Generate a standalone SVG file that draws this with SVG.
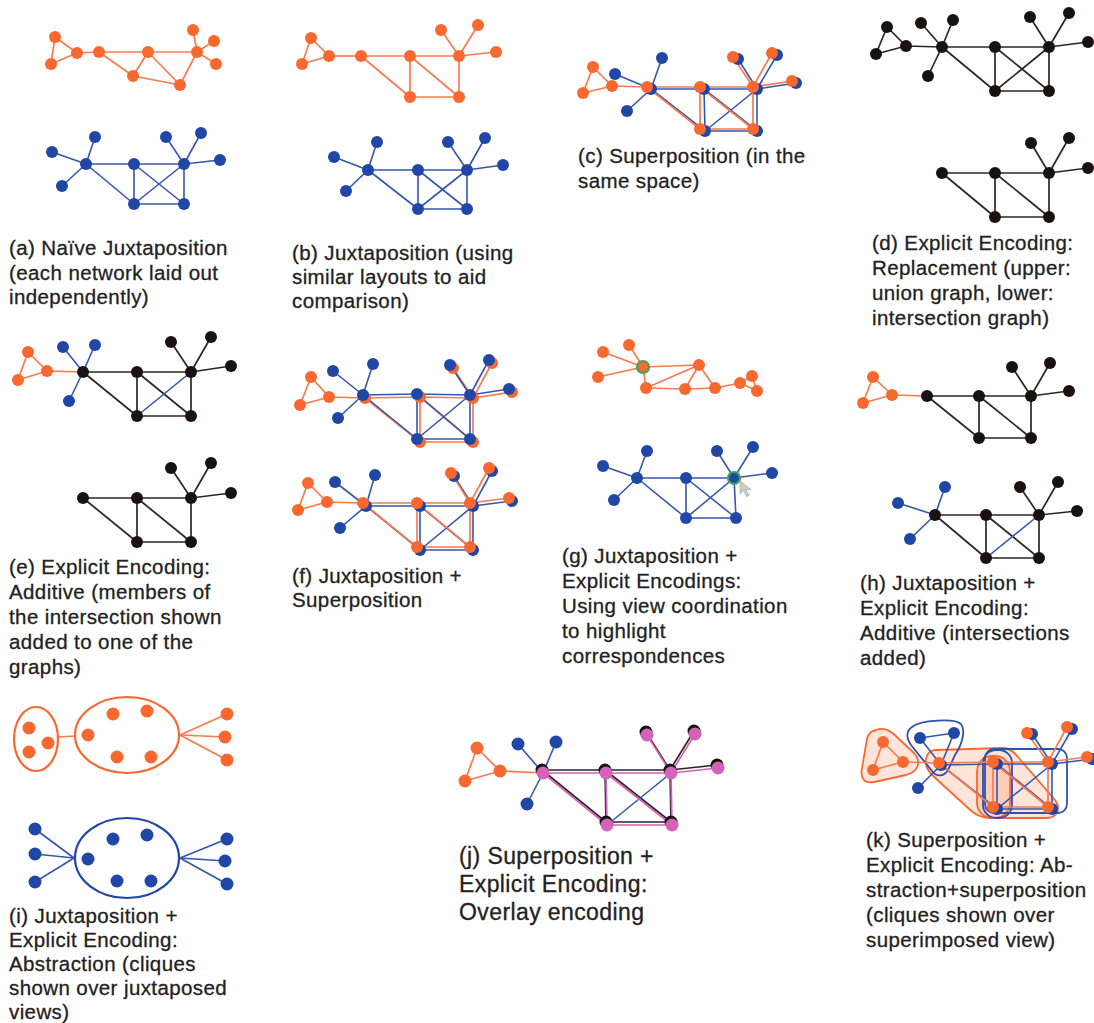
<svg xmlns="http://www.w3.org/2000/svg" width="1094" height="1023" viewBox="0 0 1094 1023">
<style>
  .no{fill:#F9692F}
  .nb{fill:#2047A5}
  .nk{fill:#1A1212}
  .np{fill:#D462B9}
  .eo line,line.eo{stroke:#F97A4E;stroke-width:1.7}
  .eb line,line.eb{stroke:#3456AF;stroke-width:1.6}
  .ek line,line.ek{stroke:#2B2525;stroke-width:1.7}
  .ep line{stroke:#D462B9;stroke-width:1.7}
  .ring{stroke:#3DA655;stroke-width:2.2}
  .hullO{fill:#F9692F;fill-opacity:0.18;stroke:#F9692F;stroke-width:1.8}
  .hullB{fill:none;stroke:#2F52AE;stroke-width:1.8}
  .cl{fill:none;stroke-width:2.2}
  text{font-family:"Liberation Sans",Arial,Helvetica,sans-serif;font-size:20.5px;fill:#222;stroke:#222;stroke-width:0.3;letter-spacing:0.4px}
  .big{font-size:23px}
</style>

<!-- ===================== (a) naive juxtaposition ===================== -->
<g id="panel-a">
  <g id="a-edges">
    <g class="eo">
      <line x1="55" y1="37" x2="51" y2="64"/><line x1="55" y1="37" x2="77" y2="53"/><line x1="51" y1="64" x2="77" y2="53"/>
      <line x1="77" y1="53" x2="99" y2="52"/><line x1="99" y1="52" x2="148" y2="52"/><line x1="148" y1="52" x2="197" y2="52"/>
      <line x1="99" y1="52" x2="133" y2="76"/><line x1="133" y1="76" x2="148" y2="52"/><line x1="148" y1="52" x2="180" y2="85"/>
      <line x1="133" y1="76" x2="180" y2="85"/><line x1="180" y1="85" x2="197" y2="52"/><line x1="197" y1="52" x2="193" y2="30"/>
      <line x1="197" y1="52" x2="214" y2="41"/><line x1="197" y1="52" x2="216" y2="64"/>
    </g>
    <g class="eb">
      <line x1="52" y1="152" x2="86" y2="164"/><line x1="95" y1="137" x2="86" y2="164"/><line x1="62" y1="186" x2="86" y2="164"/>
      <line x1="86" y1="164" x2="134" y2="164"/><line x1="86" y1="164" x2="134" y2="204"/><line x1="134" y1="164" x2="184" y2="164"/>
      <line x1="134" y1="164" x2="134" y2="204"/><line x1="134" y1="164" x2="184" y2="204"/><line x1="134" y1="204" x2="184" y2="204"/>
      <line x1="134" y1="204" x2="184" y2="164"/><line x1="184" y1="164" x2="184" y2="204"/><line x1="184" y1="164" x2="166" y2="137"/>
      <line x1="184" y1="164" x2="201" y2="133"/><line x1="184" y1="164" x2="220" y2="160"/>
    </g>
  </g>
  <g class="no">
    <g id="a-o1"><circle cx="55" cy="37" r="6"/></g><g id="a-o2"><circle cx="51" cy="64" r="6"/></g>
    <g id="a-o3"><circle cx="77" cy="53" r="6"/></g><g id="a-o4"><circle cx="99" cy="52" r="6"/></g>
    <g id="a-o5"><circle cx="148" cy="52" r="6"/></g><g id="a-o6"><circle cx="133" cy="76" r="6"/></g>
    <g id="a-o7"><circle cx="180" cy="85" r="6"/></g><g id="a-o8"><circle cx="197" cy="52" r="6"/></g>
    <g id="a-o9"><circle cx="193" cy="30" r="6"/></g><g id="a-o10"><circle cx="214" cy="41" r="6"/></g>
    <g id="a-o11"><circle cx="216" cy="64" r="6"/></g>
  </g>
  <g class="nb">
    <g id="a-b1"><circle cx="52" cy="152" r="6"/></g><g id="a-b2"><circle cx="95" cy="137" r="6"/></g>
    <g id="a-b3"><circle cx="86" cy="164" r="6"/></g><g id="a-b4"><circle cx="62" cy="186" r="6"/></g>
    <g id="a-b5"><circle cx="134" cy="164" r="6"/></g><g id="a-b6"><circle cx="134" cy="204" r="6"/></g>
    <g id="a-b7"><circle cx="184" cy="204" r="6"/></g><g id="a-b8"><circle cx="184" cy="164" r="6"/></g>
    <g id="a-b9"><circle cx="166" cy="137" r="6"/></g><g id="a-b10"><circle cx="201" cy="133" r="6"/></g>
    <g id="a-b11"><circle cx="220" cy="160" r="6"/></g>
  </g>
  <text x="9" y="255">(a) Naïve Juxtaposition</text>
  <text x="9" y="279.5">(each network laid out</text>
  <text x="9" y="304">independently)</text>
</g>

<!-- ===================== (b) juxtaposition, similar layouts ===================== -->
<g id="panel-b">
  <g id="b-edges">
    <g class="eo">
      <line x1="311" y1="38" x2="302" y2="64"/><line x1="311" y1="38" x2="329" y2="56"/><line x1="302" y1="64" x2="329" y2="56"/>
      <line x1="329" y1="56" x2="361" y2="56"/><line x1="361" y1="56" x2="410" y2="56"/><line x1="410" y1="56" x2="459" y2="56"/>
      <line x1="361" y1="56" x2="410" y2="97"/><line x1="410" y1="56" x2="410" y2="97"/><line x1="410" y1="56" x2="459" y2="97"/>
      <line x1="410" y1="97" x2="459" y2="97"/><line x1="459" y1="56" x2="459" y2="97"/><line x1="459" y1="56" x2="441" y2="30"/>
      <line x1="459" y1="56" x2="478" y2="25"/><line x1="459" y1="56" x2="496" y2="52"/>
    </g>
    <g class="eb">
      <line x1="334" y1="157" x2="368" y2="170"/><line x1="377" y1="142" x2="368" y2="170"/><line x1="346" y1="191" x2="368" y2="170"/>
      <line x1="368" y1="170" x2="418" y2="170"/><line x1="368" y1="170" x2="418" y2="209"/><line x1="418" y1="170" x2="467" y2="170"/>
      <line x1="418" y1="170" x2="418" y2="209"/><line x1="418" y1="170" x2="467" y2="209"/><line x1="418" y1="209" x2="467" y2="209"/>
      <line x1="418" y1="209" x2="467" y2="170"/><line x1="467" y1="170" x2="467" y2="209"/><line x1="467" y1="170" x2="448" y2="142"/>
      <line x1="467" y1="170" x2="485" y2="138"/><line x1="467" y1="170" x2="503" y2="165"/>
    </g>
  </g>
  <g class="no">
    <g id="b-o1"><circle cx="311" cy="38" r="6"/></g><g id="b-o2"><circle cx="302" cy="64" r="6"/></g>
    <g id="b-o3"><circle cx="329" cy="56" r="6"/></g><g id="b-o4"><circle cx="361" cy="56" r="6"/></g>
    <g id="b-o5"><circle cx="410" cy="56" r="6"/></g><g id="b-o6"><circle cx="410" cy="97" r="6"/></g>
    <g id="b-o7"><circle cx="459" cy="97" r="6"/></g><g id="b-o8"><circle cx="459" cy="56" r="6"/></g>
    <g id="b-o9"><circle cx="441" cy="30" r="6"/></g><g id="b-o10"><circle cx="478" cy="25" r="6"/></g>
    <g id="b-o11"><circle cx="496" cy="52" r="6"/></g>
  </g>
  <g class="nb">
    <g id="b-b1"><circle cx="334" cy="157" r="6"/></g><g id="b-b2"><circle cx="377" cy="142" r="6"/></g>
    <g id="b-b3"><circle cx="368" cy="170" r="6"/></g><g id="b-b4"><circle cx="346" cy="191" r="6"/></g>
    <g id="b-b5"><circle cx="418" cy="170" r="6"/></g><g id="b-b6"><circle cx="418" cy="209" r="6"/></g>
    <g id="b-b7"><circle cx="467" cy="209" r="6"/></g><g id="b-b8"><circle cx="467" cy="170" r="6"/></g>
    <g id="b-b9"><circle cx="448" cy="142" r="6"/></g><g id="b-b10"><circle cx="485" cy="138" r="6"/></g>
    <g id="b-b11"><circle cx="503" cy="165" r="6"/></g>
  </g>
  <text x="292" y="260">(b) Juxtaposition (using</text>
  <text x="292" y="284">similar layouts to aid</text>
  <text x="292" y="308">comparison)</text>
</g>

<!-- ===================== (c) superposition ===================== -->
<g id="panel-c">
  <g id="c-edges">
    <g class="eb">
      <line x1="615" y1="74" x2="651" y2="89"/><line x1="662" y1="58" x2="651" y2="89"/><line x1="627" y1="111" x2="651" y2="89"/>
      <line x1="651" y1="89" x2="704" y2="89"/><line x1="651" y1="89" x2="705" y2="131"/><line x1="704" y1="89" x2="757" y2="89"/>
      <line x1="704" y1="89" x2="705" y2="131"/><line x1="704" y1="89" x2="757" y2="131"/><line x1="705" y1="131" x2="757" y2="131"/>
      <line x1="705" y1="131" x2="757" y2="89"/><line x1="757" y1="89" x2="757" y2="131"/><line x1="757" y1="89" x2="738" y2="59"/>
      <line x1="757" y1="89" x2="777" y2="55"/><line x1="757" y1="89" x2="796" y2="83"/>
    </g>
    <g class="eo">
      <line x1="593" y1="67" x2="583" y2="93"/><line x1="593" y1="67" x2="612" y2="86"/><line x1="583" y1="93" x2="612" y2="86"/>
      <line x1="612" y1="86" x2="647" y2="87"/><line x1="647" y1="87" x2="700" y2="87"/><line x1="647" y1="87" x2="700" y2="129"/>
      <line x1="700" y1="87" x2="753" y2="87"/><line x1="700" y1="87" x2="700" y2="129"/><line x1="700" y1="87" x2="753" y2="129"/>
      <line x1="700" y1="129" x2="753" y2="129"/><line x1="753" y1="87" x2="753" y2="129"/><line x1="753" y1="87" x2="733" y2="57"/>
      <line x1="753" y1="87" x2="772" y2="53"/><line x1="753" y1="87" x2="792" y2="81"/>
    </g>
  </g>
  <g class="nb">
    <g id="c-b1"><circle cx="615" cy="74" r="6"/></g><g id="c-b2"><circle cx="662" cy="58" r="6"/></g>
    <g id="c-b3"><circle cx="651" cy="89" r="6"/></g><g id="c-b4"><circle cx="627" cy="111" r="6"/></g>
    <g id="c-b5"><circle cx="704" cy="89" r="6"/></g><g id="c-b6"><circle cx="705" cy="131" r="6"/></g>
    <g id="c-b7"><circle cx="757" cy="131" r="6"/></g><g id="c-b8"><circle cx="757" cy="89" r="6"/></g>
    <g id="c-b9"><circle cx="738" cy="59" r="6"/></g><g id="c-b10"><circle cx="777" cy="55" r="6"/></g>
    <g id="c-b11"><circle cx="796" cy="83" r="6"/></g>
  </g>
  <g class="no">
    <g id="c-o1"><circle cx="593" cy="67" r="6"/></g><g id="c-o2"><circle cx="583" cy="93" r="6"/></g>
    <g id="c-o3"><circle cx="612" cy="86" r="6"/></g><g id="c-o4"><circle cx="647" cy="87" r="6"/></g>
    <g id="c-o5"><circle cx="700" cy="87" r="6"/></g><g id="c-o6"><circle cx="700" cy="129" r="6"/></g>
    <g id="c-o7"><circle cx="753" cy="129" r="6"/></g><g id="c-o8"><circle cx="753" cy="87" r="6"/></g>
    <g id="c-o9"><circle cx="733" cy="57" r="6"/></g><g id="c-o10"><circle cx="772" cy="53" r="6"/></g>
    <g id="c-o11"><circle cx="792" cy="81" r="6"/></g>
  </g>
  <text x="578" y="163">(c) Superposition (in the</text>
  <text x="578" y="188">same space)</text>
</g>

<!-- ===================== (d) replacement ===================== -->
<g id="panel-d">
  <g id="d-edges" class="ek">
    <line x1="887" y1="27" x2="876" y2="54"/><line x1="887" y1="27" x2="906" y2="46"/><line x1="876" y1="54" x2="906" y2="46"/>
    <line x1="906" y1="46" x2="942" y2="47"/><line x1="942" y1="47" x2="921" y2="23"/><line x1="942" y1="47" x2="953" y2="20"/>
    <line x1="942" y1="47" x2="928" y2="76"/><line x1="942" y1="47" x2="995" y2="47"/><line x1="942" y1="47" x2="995" y2="91"/>
    <line x1="995" y1="47" x2="1049" y2="47"/><line x1="995" y1="47" x2="995" y2="91"/><line x1="995" y1="47" x2="1049" y2="91"/>
    <line x1="995" y1="91" x2="1049" y2="47"/><line x1="995" y1="91" x2="1049" y2="91"/><line x1="1049" y1="47" x2="1049" y2="91"/>
    <line x1="1049" y1="47" x2="1030" y2="17"/><line x1="1049" y1="47" x2="1069" y2="13"/><line x1="1049" y1="47" x2="1088" y2="42"/>
    <line x1="942" y1="173" x2="995" y2="173"/><line x1="942" y1="173" x2="995" y2="217"/><line x1="995" y1="173" x2="1049" y2="173"/>
    <line x1="995" y1="173" x2="995" y2="217"/><line x1="995" y1="173" x2="1049" y2="217"/><line x1="995" y1="217" x2="1049" y2="217"/>
    <line x1="1049" y1="173" x2="1049" y2="217"/><line x1="1049" y1="173" x2="1031" y2="143"/><line x1="1049" y1="173" x2="1069" y2="138"/>
    <line x1="1049" y1="173" x2="1088" y2="168"/>
  </g>
  <g class="nk">
    <g id="d-u1"><circle cx="887" cy="27" r="6"/></g><g id="d-u2"><circle cx="876" cy="54" r="6"/></g>
    <g id="d-u3"><circle cx="906" cy="46" r="6"/></g><g id="d-u4"><circle cx="942" cy="47" r="6"/></g>
    <g id="d-u5"><circle cx="921" cy="23" r="6"/></g><g id="d-u6"><circle cx="953" cy="20" r="6"/></g>
    <g id="d-u7"><circle cx="928" cy="76" r="6"/></g><g id="d-u8"><circle cx="995" cy="47" r="6"/></g>
    <g id="d-u9"><circle cx="995" cy="91" r="6"/></g><g id="d-u10"><circle cx="1049" cy="91" r="6"/></g>
    <g id="d-u11"><circle cx="1049" cy="47" r="6"/></g><g id="d-u12"><circle cx="1030" cy="17" r="6"/></g>
    <g id="d-u13"><circle cx="1069" cy="13" r="6"/></g><g id="d-u14"><circle cx="1088" cy="42" r="6"/></g>
    <g id="d-i1"><circle cx="942" cy="173" r="6"/></g><g id="d-i2"><circle cx="995" cy="173" r="6"/></g>
    <g id="d-i3"><circle cx="995" cy="217" r="6"/></g><g id="d-i4"><circle cx="1049" cy="217" r="6"/></g>
    <g id="d-i5"><circle cx="1049" cy="173" r="6"/></g><g id="d-i6"><circle cx="1031" cy="143" r="6"/></g>
    <g id="d-i7"><circle cx="1069" cy="138" r="6"/></g><g id="d-i8"><circle cx="1088" cy="168" r="6"/></g>
  </g>
  <text x="872" y="250">(d) Explicit Encoding:</text>
  <text x="872" y="275">Replacement (upper:</text>
  <text x="872" y="300">union graph, lower:</text>
  <text x="872" y="325">intersection graph)</text>
</g>

<!-- ===================== (e) additive ===================== -->
<g id="panel-e">
  <g id="e-edges">
    <g class="eo">
      <line x1="28" y1="352" x2="18" y2="380"/><line x1="28" y1="352" x2="47" y2="371"/><line x1="18" y1="380" x2="47" y2="371"/>
      <line x1="47" y1="371" x2="83" y2="372"/>
    </g>
    <g class="ek">
      <line x1="83" y1="372" x2="137" y2="372"/><line x1="83" y1="372" x2="137" y2="416"/><line x1="137" y1="372" x2="191" y2="372"/>
      <line x1="137" y1="372" x2="137" y2="416"/><line x1="137" y1="372" x2="191" y2="416"/><line x1="137" y1="416" x2="191" y2="416"/>
      <line x1="191" y1="372" x2="191" y2="416"/><line x1="191" y1="372" x2="171" y2="342"/><line x1="191" y1="372" x2="211" y2="337"/>
      <line x1="191" y1="372" x2="231" y2="366"/>
      <line x1="83" y1="498" x2="137" y2="498"/><line x1="83" y1="498" x2="137" y2="542"/><line x1="137" y1="498" x2="191" y2="498"/>
      <line x1="137" y1="498" x2="137" y2="542"/><line x1="137" y1="498" x2="191" y2="542"/><line x1="137" y1="542" x2="191" y2="542"/>
      <line x1="191" y1="498" x2="191" y2="542"/><line x1="191" y1="498" x2="171" y2="468"/><line x1="191" y1="498" x2="211" y2="463"/>
      <line x1="191" y1="498" x2="231" y2="493"/>
    </g>
    <g class="eb">
      <line x1="83" y1="372" x2="63" y2="347"/><line x1="83" y1="372" x2="95" y2="345"/><line x1="83" y1="372" x2="69" y2="401"/>
      <line x1="137" y1="416" x2="191" y2="372"/>
    </g>
  </g>
  <g class="no">
    <g id="e-o1"><circle cx="28" cy="352" r="6"/></g><g id="e-o2"><circle cx="18" cy="380" r="6"/></g>
    <g id="e-o3"><circle cx="47" cy="371" r="6"/></g>
  </g>
  <g class="nb">
    <g id="e-b1"><circle cx="63" cy="347" r="6"/></g><g id="e-b2"><circle cx="95" cy="345" r="6"/></g>
    <g id="e-b3"><circle cx="69" cy="401" r="6"/></g>
  </g>
  <g class="nk">
    <g id="e-k1"><circle cx="83" cy="372" r="6"/></g><g id="e-k2"><circle cx="137" cy="372" r="6"/></g>
    <g id="e-k3"><circle cx="137" cy="416" r="6"/></g><g id="e-k4"><circle cx="191" cy="416" r="6"/></g>
    <g id="e-k5"><circle cx="191" cy="372" r="6"/></g><g id="e-k6"><circle cx="171" cy="342" r="6"/></g>
    <g id="e-k7"><circle cx="211" cy="337" r="6"/></g><g id="e-k8"><circle cx="231" cy="366" r="6"/></g>
    <g id="e-i1"><circle cx="83" cy="498" r="6"/></g><g id="e-i2"><circle cx="137" cy="498" r="6"/></g>
    <g id="e-i3"><circle cx="137" cy="542" r="6"/></g><g id="e-i4"><circle cx="191" cy="542" r="6"/></g>
    <g id="e-i5"><circle cx="191" cy="498" r="6"/></g><g id="e-i6"><circle cx="171" cy="468" r="6"/></g>
    <g id="e-i7"><circle cx="211" cy="463" r="6"/></g><g id="e-i8"><circle cx="231" cy="493" r="6"/></g>
  </g>
  <text x="9" y="574">(e) Explicit Encoding:</text>
  <text x="9" y="599">Additive (members of</text>
  <text x="9" y="624">the intersection shown</text>
  <text x="9" y="649">added to one of the</text>
  <text x="9" y="674">graphs)</text>
</g>

<!-- ===================== (f) juxtaposition + superposition ===================== -->
<g id="panel-f">
  <g id="f-edges">
    <!-- upper view: orange behind blue -->
    <g class="eo">
      <line x1="311" y1="377" x2="300" y2="405"/><line x1="311" y1="377" x2="329" y2="397"/><line x1="300" y1="405" x2="329" y2="397"/>
      <line x1="329" y1="397" x2="365" y2="398"/><line x1="365" y1="398" x2="420" y2="397"/><line x1="365" y1="398" x2="420" y2="442"/>
      <line x1="420" y1="397" x2="473" y2="398"/><line x1="420" y1="397" x2="420" y2="442"/><line x1="420" y1="397" x2="473" y2="442"/>
      <line x1="420" y1="442" x2="473" y2="442"/><line x1="473" y1="398" x2="473" y2="442"/><line x1="473" y1="398" x2="453" y2="368"/>
      <line x1="473" y1="398" x2="492" y2="363"/><line x1="473" y1="398" x2="512" y2="392"/>
    </g>
    <g class="eb">
      <line x1="333" y1="371" x2="363" y2="395"/><line x1="373" y1="364" x2="363" y2="395"/><line x1="338" y1="418" x2="363" y2="395"/>
      <line x1="363" y1="395" x2="417" y2="394"/><line x1="363" y1="395" x2="417" y2="439"/><line x1="417" y1="394" x2="470" y2="395"/>
      <line x1="417" y1="394" x2="417" y2="439"/><line x1="417" y1="394" x2="470" y2="439"/><line x1="417" y1="439" x2="470" y2="439"/>
      <line x1="417" y1="439" x2="470" y2="395"/><line x1="470" y1="395" x2="470" y2="439"/><line x1="470" y1="395" x2="450" y2="365"/>
      <line x1="470" y1="395" x2="489" y2="360"/><line x1="470" y1="395" x2="509" y2="389"/>
    </g>
    <!-- lower view: blue behind orange -->
    <g class="eb">
      <line x1="335" y1="482" x2="366" y2="506"/><line x1="375" y1="475" x2="366" y2="506"/><line x1="340" y1="528" x2="366" y2="506"/>
      <line x1="366" y1="506" x2="420" y2="506"/><line x1="366" y1="506" x2="420" y2="550"/><line x1="420" y1="506" x2="473" y2="506"/>
      <line x1="420" y1="506" x2="420" y2="550"/><line x1="420" y1="506" x2="473" y2="550"/><line x1="420" y1="550" x2="473" y2="550"/>
      <line x1="420" y1="550" x2="473" y2="506"/><line x1="473" y1="506" x2="473" y2="550"/><line x1="473" y1="506" x2="454" y2="476"/>
      <line x1="473" y1="506" x2="492" y2="471"/><line x1="473" y1="506" x2="512" y2="501"/>
    </g>
    <g class="eo">
      <line x1="308" y1="483" x2="298" y2="510"/><line x1="308" y1="483" x2="327" y2="502"/><line x1="298" y1="510" x2="327" y2="502"/>
      <line x1="327" y1="502" x2="363" y2="503"/><line x1="363" y1="503" x2="417" y2="503"/><line x1="363" y1="503" x2="417" y2="547"/>
      <line x1="417" y1="503" x2="470" y2="503"/><line x1="417" y1="503" x2="417" y2="547"/><line x1="417" y1="503" x2="470" y2="547"/>
      <line x1="417" y1="547" x2="470" y2="547"/><line x1="470" y1="503" x2="470" y2="547"/><line x1="470" y1="503" x2="451" y2="473"/>
      <line x1="470" y1="503" x2="489" y2="468"/><line x1="470" y1="503" x2="509" y2="498"/>
    </g>
  </g>
  <g class="no">
    <g id="f-o1"><circle cx="311" cy="377" r="6"/></g><g id="f-o2"><circle cx="300" cy="405" r="6"/></g>
    <g id="f-o3"><circle cx="329" cy="397" r="6"/></g><g id="f-o4"><circle cx="365" cy="398" r="6"/></g>
    <g id="f-o5"><circle cx="420" cy="397" r="6"/></g><g id="f-o6"><circle cx="420" cy="442" r="6"/></g>
    <g id="f-o7"><circle cx="473" cy="442" r="6"/></g><g id="f-o8"><circle cx="473" cy="398" r="6"/></g>
    <g id="f-o9"><circle cx="453" cy="368" r="6"/></g><g id="f-o10"><circle cx="492" cy="363" r="6"/></g>
    <g id="f-o11"><circle cx="512" cy="392" r="6"/></g>
  </g>
  <g class="nb">
    <g id="f-b1"><circle cx="333" cy="371" r="6"/></g><g id="f-b2"><circle cx="373" cy="364" r="6"/></g>
    <g id="f-b3"><circle cx="363" cy="395" r="6"/></g><g id="f-b4"><circle cx="338" cy="418" r="6"/></g>
    <g id="f-b5"><circle cx="417" cy="394" r="6"/></g><g id="f-b6"><circle cx="417" cy="439" r="6"/></g>
    <g id="f-b7"><circle cx="470" cy="439" r="6"/></g><g id="f-b8"><circle cx="470" cy="395" r="6"/></g>
    <g id="f-b9"><circle cx="450" cy="365" r="6"/></g><g id="f-b10"><circle cx="489" cy="360" r="6"/></g>
    <g id="f-b11"><circle cx="509" cy="389" r="6"/></g>
  </g>
  <g class="nb">
    <g id="f-lb1"><circle cx="335" cy="482" r="6"/></g><g id="f-lb2"><circle cx="375" cy="475" r="6"/></g>
    <g id="f-lb3"><circle cx="366" cy="506" r="6"/></g><g id="f-lb4"><circle cx="340" cy="528" r="6"/></g>
    <g id="f-lb5"><circle cx="420" cy="506" r="6"/></g><g id="f-lb6"><circle cx="420" cy="550" r="6"/></g>
    <g id="f-lb7"><circle cx="473" cy="550" r="6"/></g><g id="f-lb8"><circle cx="473" cy="506" r="6"/></g>
    <g id="f-lb9"><circle cx="454" cy="476" r="6"/></g><g id="f-lb10"><circle cx="492" cy="471" r="6"/></g>
    <g id="f-lb11"><circle cx="512" cy="501" r="6"/></g>
  </g>
  <g class="no">
    <g id="f-lo1"><circle cx="308" cy="483" r="6"/></g><g id="f-lo2"><circle cx="298" cy="510" r="6"/></g>
    <g id="f-lo3"><circle cx="327" cy="502" r="6"/></g><g id="f-lo4"><circle cx="363" cy="503" r="6"/></g>
    <g id="f-lo5"><circle cx="417" cy="503" r="6"/></g><g id="f-lo6"><circle cx="417" cy="547" r="6"/></g>
    <g id="f-lo7"><circle cx="470" cy="547" r="6"/></g><g id="f-lo8"><circle cx="470" cy="503" r="6"/></g>
    <g id="f-lo9"><circle cx="451" cy="473" r="6"/></g><g id="f-lo10"><circle cx="489" cy="468" r="6"/></g>
    <g id="f-lo11"><circle cx="509" cy="498" r="6"/></g>
  </g>
  <text x="292" y="583">(f) Juxtaposition +</text>
  <text x="292" y="607">Superposition</text>
</g>

<!-- ===================== (g) view coordination ===================== -->
<g id="panel-g">
  <g id="g-edges">
    <g class="eo">
      <line x1="603" y1="352" x2="643" y2="367"/><line x1="629" y1="345" x2="643" y2="367"/><line x1="598" y1="377" x2="643" y2="367"/>
      <line x1="643" y1="367" x2="699" y2="365"/><line x1="643" y1="367" x2="646" y2="388"/><line x1="646" y1="388" x2="699" y2="365"/>
      <line x1="646" y1="388" x2="685" y2="389"/><line x1="685" y1="389" x2="699" y2="365"/><line x1="699" y1="365" x2="715" y2="388"/>
      <line x1="685" y1="389" x2="715" y2="388"/><line x1="715" y1="388" x2="740" y2="383"/><line x1="740" y1="383" x2="752" y2="376"/>
      <line x1="740" y1="383" x2="757" y2="391"/><line x1="752" y1="376" x2="757" y2="391"/>
    </g>
    <g class="eb">
      <line x1="603" y1="466" x2="637" y2="478"/><line x1="647" y1="451" x2="637" y2="478"/><line x1="614" y1="500" x2="637" y2="478"/>
      <line x1="637" y1="478" x2="686" y2="478"/><line x1="637" y1="478" x2="686" y2="518"/><line x1="686" y1="478" x2="734" y2="478"/>
      <line x1="686" y1="478" x2="686" y2="518"/><line x1="686" y1="478" x2="736" y2="518"/><line x1="686" y1="518" x2="736" y2="518"/>
      <line x1="686" y1="518" x2="734" y2="478"/><line x1="734" y1="478" x2="736" y2="518"/><line x1="734" y1="478" x2="717" y2="451"/>
      <line x1="734" y1="478" x2="753" y2="447"/><line x1="734" y1="478" x2="772" y2="473"/>
    </g>
  </g>
  <g class="no">
    <g id="g-o1"><circle cx="603" cy="352" r="6"/></g><g id="g-o2"><circle cx="629" cy="345" r="6"/></g>
    <g id="g-o3"><circle cx="598" cy="377" r="6"/></g>
    <g id="g-o4"><circle class="ring" cx="643" cy="367" r="6"/></g>
    <g id="g-o5"><circle cx="699" cy="365" r="6"/></g><g id="g-o6"><circle cx="646" cy="388" r="6"/></g>
    <g id="g-o7"><circle cx="685" cy="389" r="6"/></g><g id="g-o8"><circle cx="715" cy="388" r="6"/></g>
    <g id="g-o9"><circle cx="740" cy="383" r="6"/></g><g id="g-o10"><circle cx="752" cy="376" r="6"/></g>
    <g id="g-o11"><circle cx="757" cy="391" r="6"/></g>
  </g>
  <g class="nb">
    <g id="g-b1"><circle cx="603" cy="466" r="6"/></g><g id="g-b2"><circle cx="647" cy="451" r="6"/></g>
    <g id="g-b3"><circle cx="637" cy="478" r="6"/></g><g id="g-b4"><circle cx="614" cy="500" r="6"/></g>
    <g id="g-b5"><circle cx="686" cy="478" r="6"/></g><g id="g-b6"><circle cx="686" cy="518" r="6"/></g>
    <g id="g-b7"><circle cx="736" cy="518" r="6"/></g>
    <g id="g-b8"><circle class="ring" cx="734" cy="478" r="6"/></g>
    <g id="g-b9"><circle cx="717" cy="451" r="6"/></g><g id="g-b10"><circle cx="753" cy="447" r="6"/></g>
    <g id="g-b11"><circle cx="772" cy="473" r="6"/></g>
  </g>
  <!-- pointer over the highlighted node -->
  <path d="M740,481 L740,494 L743.5,490.5 L746.5,496.5 L749,495.3 L746,489.5 L751,489.5 Z" fill="#C9CCC9" stroke="#9EA39E" stroke-width="0.6"/>
  <text x="562" y="563">(g) Juxtaposition +</text>
  <text x="562" y="588">Explicit Encodings:</text>
  <text x="562" y="613">Using view coordination</text>
  <text x="562" y="638">to highlight</text>
  <text x="562" y="663">correspondences</text>
</g>

<!-- ===================== (h) juxtaposition + additive ===================== -->
<g id="panel-h">
  <g id="h-edges">
    <g class="eo">
      <line x1="873" y1="377" x2="863" y2="403"/><line x1="873" y1="377" x2="892" y2="395"/><line x1="863" y1="403" x2="892" y2="395"/>
      <line x1="892" y1="395" x2="927" y2="396"/>
    </g>
    <g class="ek">
      <line x1="927" y1="396" x2="979" y2="396"/><line x1="927" y1="396" x2="979" y2="438"/><line x1="979" y1="396" x2="1031" y2="396"/>
      <line x1="979" y1="396" x2="979" y2="438"/><line x1="979" y1="396" x2="1031" y2="438"/><line x1="979" y1="438" x2="1031" y2="438"/>
      <line x1="1031" y1="396" x2="1031" y2="438"/><line x1="1031" y1="396" x2="1012" y2="367"/><line x1="1031" y1="396" x2="1050" y2="363"/>
      <line x1="1031" y1="396" x2="1069" y2="391"/>
      <line x1="935" y1="515" x2="986" y2="515"/><line x1="935" y1="515" x2="986" y2="558"/><line x1="986" y1="515" x2="1039" y2="515"/>
      <line x1="986" y1="515" x2="986" y2="558"/><line x1="986" y1="515" x2="1039" y2="558"/><line x1="986" y1="558" x2="1039" y2="558"/>
      <line x1="1039" y1="515" x2="1039" y2="558"/><line x1="1039" y1="515" x2="1020" y2="487"/><line x1="1039" y1="515" x2="1058" y2="482"/>
      <line x1="1039" y1="515" x2="1077" y2="511"/>
    </g>
    <g class="eb">
      <line x1="935" y1="515" x2="898" y2="503"/><line x1="935" y1="515" x2="945" y2="487"/><line x1="935" y1="515" x2="910" y2="539"/>
      <line x1="986" y1="558" x2="1039" y2="515"/>
    </g>
  </g>
  <g class="no">
    <g id="h-o1"><circle cx="873" cy="377" r="6"/></g><g id="h-o2"><circle cx="863" cy="403" r="6"/></g>
    <g id="h-o3"><circle cx="892" cy="395" r="6"/></g>
  </g>
  <g class="nb">
    <g id="h-b1"><circle cx="898" cy="503" r="6"/></g><g id="h-b2"><circle cx="945" cy="487" r="6"/></g>
    <g id="h-b3"><circle cx="910" cy="539" r="6"/></g>
  </g>
  <g class="nk">
    <g id="h-k1"><circle cx="927" cy="396" r="6"/></g><g id="h-k2"><circle cx="979" cy="396" r="6"/></g>
    <g id="h-k3"><circle cx="979" cy="438" r="6"/></g><g id="h-k4"><circle cx="1031" cy="438" r="6"/></g>
    <g id="h-k5"><circle cx="1031" cy="396" r="6"/></g><g id="h-k6"><circle cx="1012" cy="367" r="6"/></g>
    <g id="h-k7"><circle cx="1050" cy="363" r="6"/></g><g id="h-k8"><circle cx="1069" cy="391" r="6"/></g>
    <g id="h-l1"><circle cx="935" cy="515" r="6"/></g><g id="h-l2"><circle cx="986" cy="515" r="6"/></g>
    <g id="h-l3"><circle cx="986" cy="558" r="6"/></g><g id="h-l4"><circle cx="1039" cy="558" r="6"/></g>
    <g id="h-l5"><circle cx="1039" cy="515" r="6"/></g><g id="h-l6"><circle cx="1020" cy="487" r="6"/></g>
    <g id="h-l7"><circle cx="1058" cy="482" r="6"/></g><g id="h-l8"><circle cx="1077" cy="511" r="6"/></g>
  </g>
  <text x="860" y="590">(h) Juxtaposition +</text>
  <text x="860" y="615">Explicit Encoding:</text>
  <text x="860" y="640">Additive (intersections</text>
  <text x="860" y="665">added)</text>
</g>

<!-- ===================== (i) abstraction ===================== -->
<g id="panel-i">
  <g id="i-edges">
    <g class="eo">
      <line x1="58" y1="737" x2="75" y2="736"/>
      <line x1="180" y1="735" x2="227" y2="714"/><line x1="180" y1="735" x2="225" y2="737"/><line x1="180" y1="735" x2="227" y2="760"/>
    </g>
    <g class="eb">
      <line x1="74" y1="858" x2="35" y2="829"/><line x1="74" y1="858" x2="35" y2="854"/><line x1="74" y1="858" x2="35" y2="882"/>
      <line x1="180" y1="858" x2="227" y2="839"/><line x1="180" y1="858" x2="225" y2="861"/><line x1="180" y1="858" x2="227" y2="884"/>
    </g>
  </g>
  <g id="i-clique-o1"><ellipse class="cl" cx="36" cy="739" rx="22" ry="32" stroke="#F9692F"/></g>
  <g id="i-clique-o2"><ellipse class="cl" cx="127" cy="735" rx="52" ry="38" stroke="#F9692F"/></g>
  <g id="i-clique-b"><ellipse class="cl" cx="127" cy="858" rx="52" ry="40" stroke="#2047A5"/></g>
  <g class="no">
    <g id="i-o1"><circle cx="29" cy="728" r="6.5"/></g><g id="i-o2"><circle cx="48" cy="743" r="6.5"/></g>
    <g id="i-o3"><circle cx="29" cy="752" r="6.5"/></g><g id="i-o4"><circle cx="113" cy="714" r="6.5"/></g>
    <g id="i-o5"><circle cx="147" cy="711" r="6.5"/></g><g id="i-o6"><circle cx="88" cy="735" r="6.5"/></g>
    <g id="i-o7"><circle cx="117" cy="757" r="6.5"/></g><g id="i-o8"><circle cx="151" cy="757" r="6.5"/></g>
    <g id="i-o9"><circle cx="227" cy="714" r="6.5"/></g><g id="i-o10"><circle cx="225" cy="737" r="6.5"/></g>
    <g id="i-o11"><circle cx="227" cy="760" r="6.5"/></g>
  </g>
  <g class="nb">
    <g id="i-b1"><circle cx="35" cy="829" r="6.5"/></g><g id="i-b2"><circle cx="35" cy="854" r="6.5"/></g>
    <g id="i-b3"><circle cx="35" cy="882" r="6.5"/></g><g id="i-b4"><circle cx="113" cy="839" r="6.5"/></g>
    <g id="i-b5"><circle cx="147" cy="835" r="6.5"/></g><g id="i-b6"><circle cx="88" cy="859" r="6.5"/></g>
    <g id="i-b7"><circle cx="117" cy="881" r="6.5"/></g><g id="i-b8"><circle cx="151" cy="881" r="6.5"/></g>
    <g id="i-b9"><circle cx="227" cy="839" r="6.5"/></g><g id="i-b10"><circle cx="225" cy="861" r="6.5"/></g>
    <g id="i-b11"><circle cx="227" cy="884" r="6.5"/></g>
  </g>
  <text x="9" y="922.5">(i) Juxtaposition +</text>
  <text x="9" y="946.5">Explicit Encoding:</text>
  <text x="9" y="970.5">Abstraction (cliques</text>
  <text x="9" y="994.5">shown over juxtaposed</text>
  <text x="9" y="1018.5">views)</text>
</g>

<!-- ===================== (j) overlay encoding ===================== -->
<g id="panel-j">
  <g id="j-edges">
    <g class="eo">
      <line x1="477" y1="748" x2="465" y2="781"/><line x1="477" y1="748" x2="500" y2="771"/><line x1="465" y1="781" x2="500" y2="771"/>
      <line x1="500" y1="771" x2="543" y2="773"/>
    </g>
    <g class="ek">
      <line x1="542" y1="770" x2="605" y2="770"/><line x1="542" y1="770" x2="606" y2="822"/><line x1="605" y1="770" x2="670" y2="770"/>
      <line x1="605" y1="770" x2="606" y2="822"/><line x1="605" y1="770" x2="671" y2="822"/><line x1="606" y1="822" x2="671" y2="822"/>
      <line x1="670" y1="770" x2="671" y2="822"/><line x1="670" y1="770" x2="646" y2="732"/><line x1="670" y1="770" x2="694" y2="731"/>
      <line x1="670" y1="770" x2="717" y2="765"/>
    </g>
    <g class="eb">
      <line x1="543" y1="773" x2="518" y2="744"/><line x1="543" y1="773" x2="556" y2="742"/><line x1="543" y1="773" x2="527" y2="804"/>
      <line x1="607" y1="825" x2="671" y2="773"/>
    </g>
    <g class="ep">
      <line x1="543" y1="773" x2="606" y2="773"/><line x1="543" y1="773" x2="607" y2="825"/><line x1="606" y1="773" x2="671" y2="773"/>
      <line x1="606" y1="773" x2="607" y2="825"/><line x1="606" y1="773" x2="672" y2="825"/><line x1="607" y1="825" x2="672" y2="825"/>
      <line x1="671" y1="773" x2="672" y2="825"/><line x1="671" y1="773" x2="647" y2="735"/><line x1="671" y1="773" x2="695" y2="734"/>
      <line x1="671" y1="773" x2="718" y2="768"/>
    </g>
  </g>
  <g class="no">
    <g id="j-o1"><circle cx="477" cy="748" r="6.5"/></g><g id="j-o2"><circle cx="465" cy="781" r="6.5"/></g>
    <g id="j-o3"><circle cx="500" cy="771" r="6.5"/></g>
  </g>
  <g class="nb">
    <g id="j-b1"><circle cx="518" cy="744" r="6.5"/></g><g id="j-b2"><circle cx="556" cy="742" r="6.5"/></g>
    <g id="j-b3"><circle cx="527" cy="804" r="6.5"/></g>
  </g>
  <g id="j-n1"><circle class="nk" cx="542" cy="770" r="6.5"/><circle class="np" cx="543" cy="773" r="6.5"/></g>
  <g id="j-n2"><circle class="nk" cx="605" cy="770" r="6.5"/><circle class="np" cx="606" cy="773" r="6.5"/></g>
  <g id="j-n3"><circle class="nk" cx="606" cy="822" r="6.5"/><circle class="np" cx="607" cy="825" r="6.5"/></g>
  <g id="j-n4"><circle class="nk" cx="671" cy="822" r="6.5"/><circle class="np" cx="672" cy="825" r="6.5"/></g>
  <g id="j-n5"><circle class="nk" cx="670" cy="770" r="6.5"/><circle class="np" cx="671" cy="773" r="6.5"/></g>
  <g id="j-n6"><circle class="nk" cx="646" cy="732" r="6.5"/><circle class="np" cx="647" cy="735" r="6.5"/></g>
  <g id="j-n7"><circle class="nk" cx="694" cy="731" r="6.5"/><circle class="np" cx="695" cy="734" r="6.5"/></g>
  <g id="j-n8"><circle class="nk" cx="717" cy="765" r="6.5"/><circle class="np" cx="718" cy="768" r="6.5"/></g>
  <text class="big" x="459" y="864">(j) Superposition +</text>
  <text class="big" x="459" y="892">Explicit Encoding:</text>
  <text class="big" x="459" y="920">Overlay encoding</text>
</g>

<!-- ===================== (k) abstraction + superposition ===================== -->
<g id="panel-k">
  <!-- clique hulls -->
  <g id="k-hulls">
    <path class="hullO" d="M876,730 C886,726 893,733 900,740 L914,753 C922,762 918,772 906,775 L874,782 C864,784 860,778 862,768 L867,739 C868,734 871,731 876,730 Z"/>
    <path class="hullO" d="M935,750 L1003,748 C1010,748 1014,752 1018,757 L1055,800 C1061,808 1058,818 1046,818 L990,818 C982,818 975,815 968,808 L932,775 C922,765 925,751 935,750 Z"/>
    <rect class="hullO" x="977" y="756" width="33" height="62" rx="15"/>
    <rect class="hullB" x="983" y="750" width="29" height="68" rx="13"/>
    <rect class="hullB" x="985" y="749" width="82" height="64" rx="9"/>
    <path class="hullB" d="M912,727 C920,720 955,718 961,724 C966,730 962,745 955,755 L948,770 C944,777 936,777 932,771 L911,745 C906,738 906,731 912,727 Z"/>
  </g>
  <g id="k-edges">
    <g class="eb">
      <line x1="920" y1="738" x2="954" y2="733"/><line x1="920" y1="738" x2="941" y2="765"/><line x1="954" y1="733" x2="941" y2="765"/>
      <line x1="941" y1="765" x2="918" y2="788"/><line x1="941" y1="765" x2="997" y2="764"/><line x1="941" y1="765" x2="997" y2="809"/>
      <line x1="997" y1="764" x2="1052" y2="764"/><line x1="997" y1="764" x2="997" y2="809"/><line x1="997" y1="764" x2="1052" y2="809"/>
      <line x1="997" y1="809" x2="1052" y2="809"/><line x1="997" y1="809" x2="1052" y2="764"/><line x1="1052" y1="764" x2="1052" y2="809"/>
      <line x1="1052" y1="764" x2="1032" y2="734"/><line x1="1052" y1="764" x2="1072" y2="729"/><line x1="1052" y1="764" x2="1092" y2="759"/>
    </g>
    <g class="eo">
      <line x1="883" y1="742" x2="873" y2="770"/><line x1="883" y1="742" x2="903" y2="762"/><line x1="873" y1="770" x2="903" y2="762"/>
      <line x1="903" y1="762" x2="939" y2="763"/><line x1="939" y1="763" x2="993" y2="762"/><line x1="939" y1="763" x2="993" y2="807"/>
      <line x1="993" y1="762" x2="1048" y2="762"/><line x1="993" y1="762" x2="993" y2="807"/><line x1="993" y1="762" x2="1048" y2="807"/>
      <line x1="993" y1="807" x2="1048" y2="807"/><line x1="1048" y1="762" x2="1048" y2="807"/><line x1="1048" y1="762" x2="1027" y2="733"/>
      <line x1="1048" y1="762" x2="1067" y2="727"/><line x1="1048" y1="762" x2="1087" y2="757"/>
    </g>
  </g>
  <g class="nb">
    <g id="k-b1"><circle cx="920" cy="738" r="6"/></g><g id="k-b2"><circle cx="954" cy="733" r="6"/></g>
    <g id="k-b3"><circle cx="941" cy="765" r="6"/></g><g id="k-b4"><circle cx="918" cy="788" r="6"/></g>
    <g id="k-b5"><circle cx="997" cy="764" r="6"/></g><g id="k-b6"><circle cx="997" cy="809" r="6"/></g>
    <g id="k-b7"><circle cx="1052" cy="809" r="6"/></g><g id="k-b8"><circle cx="1052" cy="764" r="6"/></g>
    <g id="k-b9"><circle cx="1032" cy="734" r="6"/></g><g id="k-b10"><circle cx="1072" cy="729" r="6"/></g>
    <g id="k-b11"><circle cx="1092" cy="759" r="6"/></g>
  </g>
  <g class="no">
    <g id="k-o1"><circle cx="883" cy="742" r="6"/></g><g id="k-o2"><circle cx="873" cy="770" r="6"/></g>
    <g id="k-o3"><circle cx="903" cy="762" r="6"/></g><g id="k-o4"><circle cx="939" cy="763" r="6"/></g>
    <g id="k-o5"><circle cx="993" cy="762" r="6"/></g><g id="k-o6"><circle cx="993" cy="807" r="6"/></g>
    <g id="k-o7"><circle cx="1048" cy="807" r="6"/></g><g id="k-o8"><circle cx="1048" cy="762" r="6"/></g>
    <g id="k-o9"><circle cx="1027" cy="733" r="6"/></g><g id="k-o10"><circle cx="1067" cy="727" r="6"/></g>
    <g id="k-o11"><circle cx="1087" cy="757" r="6"/></g>
  </g>
  <text x="866" y="847">(k) Superposition +</text>
  <text x="866" y="872">Explicit Encoding: Ab-</text>
  <text x="866" y="897">straction+superposition</text>
  <text x="866" y="922">(cliques shown over</text>
  <text x="866" y="947">superimposed view)</text>
</g>
</svg>
